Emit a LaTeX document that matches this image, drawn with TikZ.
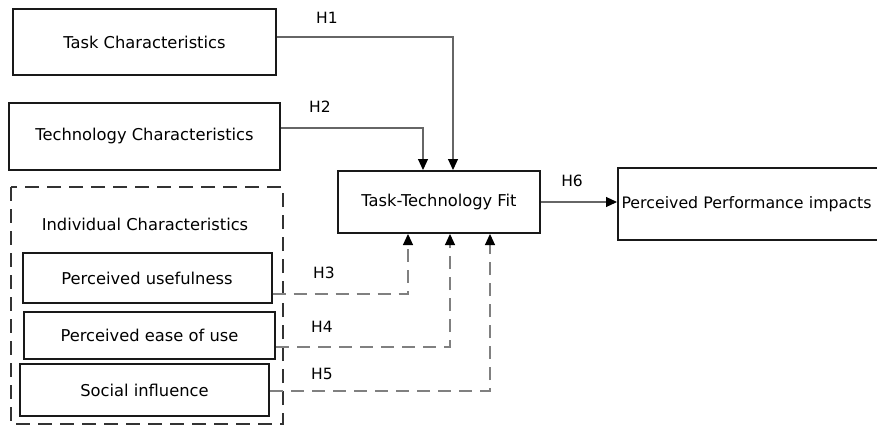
\documentclass[tikz,border=0pt]{standalone}
\usepackage{fontspec}
\setmainfont{DejaVu Sans}
\usetikzlibrary{arrows.meta}
\begin{document}
\begin{tikzpicture}[x=1pt,y=-1pt,
  box/.style={draw=black!90,line width=2pt,inner sep=0pt,font=\fontsize{16.3}{19}\selectfont},
  lbl/.style={inner sep=0pt,font=\fontsize{15.5}{18}\selectfont},
  link/.style={draw=black!60,line width=1.1pt,-{Triangle[length=11pt,width=10pt,color=black]}},
  dlink/.style={link,draw=black!50,dash pattern=on 13pt off 8pt},
  group/.style={draw=black!80,line width=1.6pt,dash pattern=on 14pt off 8pt}]
\useasboundingbox (0,0) rectangle (877,425);
\node[box,minimum width=263pt,minimum height=66pt] (task) at (144.5,42) {Task Characteristics};
\node[box,minimum width=271pt,minimum height=67pt] (tech) at (144.5,136.5) {Technology Characteristics};
\node[box,minimum width=202pt,minimum height=62pt] (ttf) at (439,202) {Task-Technology Fit};
\node[box,anchor=west,minimum height=72pt,text width=264pt,inner xsep=3.5pt,align=left,font=\fontsize{15.8}{19}\selectfont] (ppi) at (617,204) {Perceived Performance impacts};
\draw[group] (11,187) rectangle (283,424);
\node[lbl,font=\fontsize{16.3}{19}\selectfont] (ind) at (145,224) {Individual Characteristics};
\node[box,minimum width=249pt,minimum height=50pt] (pu) at (147,278) {Perceived usefulness};
\node[box,minimum width=251pt,minimum height=47pt] (peou) at (149.5,335.5) {Perceived ease of use};
\node[box,minimum width=249pt,minimum height=52pt] (si) at (144.5,390) {Social influence};
\node[lbl] (h1) at (327,18) {H1};
\node[lbl] (h2) at (320,107) {H2};
\node[lbl] (h3) at (324,273) {H3};
\node[lbl] (h4) at (322,327) {H4};
\node[lbl] (h5) at (322,374) {H5};
\node[lbl] (h6) at (572,181) {H6};
\draw[link] ([yshift=5pt]task.east) -| ([xshift=14pt]ttf.north);
\draw[link] ([yshift=8.5pt]tech.east) -| ([xshift=-16pt]ttf.north);
\draw[link] (ttf.east) -- (ttf.east -| ppi.west);
\draw[dlink] ([yshift=-16pt]pu.east) -| ([xshift=-31pt]ttf.south);
\draw[dlink] ([yshift=-11.5pt]peou.east) -| ([xshift=11pt]ttf.south);
\draw[dlink] ([yshift=-1pt]si.east) -| ([xshift=51pt]ttf.south);
\end{tikzpicture}
\end{document}
